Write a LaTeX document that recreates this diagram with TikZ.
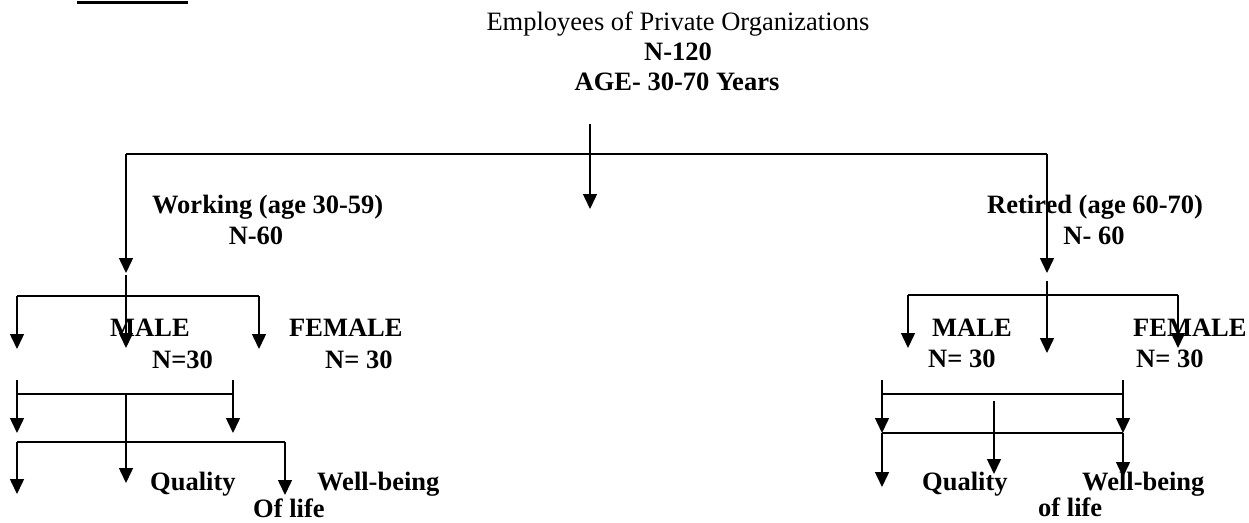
\documentclass[tikz,border=0pt]{standalone}
\usepackage{fontspec}
\setmainfont{Liberation Serif}
\usetikzlibrary{arrows.meta}
\begin{document}
\begin{tikzpicture}[x=1pt,y=-1pt,
  conn/.style={line width=1.5pt},
  arr/.style={conn,-{Triangle[width=14pt,length=15pt]}},
  lbl/.style={font=\fontsize{26.5}{31}\selectfont\bfseries,inner sep=0pt,anchor=base west},
  ttl/.style={font=\fontsize{26.5}{31}\selectfont,inner sep=0pt,anchor=base}]
\useasboundingbox (0,0) rectangle (1249,522);
% top bar
\draw[line width=3pt] (77,2.5) coordinate (b1) -- (188,2.5) coordinate (b2);
% titles
\node[ttl] (t1) at (678,30) {Employees of Private Organizations};
\node[ttl,font=\fontsize{26.5}{31}\selectfont\bfseries] (t2) at (678,60) {N-120};
\node[ttl,font=\fontsize{26.5}{31}\selectfont\bfseries] (t3) at (677,90) {AGE- 30-70 Years};
% level labels
\node[lbl] (work) at (152,213) {Working (age 30-59)};
\node[lbl,anchor=base] (wn) at (256,244) {N-60};
\node[lbl] (ret) at (987,213) {Retired (age 60-70)};
\node[lbl,anchor=base] (rn) at (1094,244) {N- 60};
\node[lbl] (lm) at (110,336) {MALE};
\node[lbl] (lmn) at (152,368) {N=30};
\node[lbl] (lf) at (289,336) {FEMALE};
\node[lbl] (lfn) at (325,368) {N= 30};
\node[lbl] (rm) at (932,336) {MALE};
\node[lbl] (rmn) at (928,367) {N= 30};
\node[lbl] (rf) at (1133,336) {FEMALE};
\node[lbl] (rfn) at (1136,367) {N= 30};
\node[lbl] (lq) at (150,490) {Quality};
\node[lbl] (lw) at (317,490) {Well-being};
\node[lbl] (lo) at (253,517) {Of life};
\node[lbl] (rq) at (922,490) {Quality};
\node[lbl] (rw) at (1082,490) {Well-being};
\node[lbl] (ro) at (1038,516) {of life};
% top branching
\coordinate (hL) at (126,154);
\coordinate (hR) at (1047,154);
\coordinate (cTop) at (590,124);
\coordinate (cTip) at (590,209);
\draw[conn] (hL) -- (hR);
\draw[arr] (cTop) -- (cTip);
\draw[arr] (hL) -- (126,273) coordinate (wTip);
\draw[arr] (hR) -- (1047,273) coordinate (rTip);
% left subtree level 1
\draw[arr] (126,275) coordinate (l1s) -- (126,348) coordinate (l1m);
\draw[conn] (17,296) coordinate (l1a) -- (259,296) coordinate (l1b);
\draw[arr] (l1a) -- (17,349);
\draw[arr] (l1b) -- (259,349);
% left subtree level 2
\coordinate (l2a) at (17,394);
\coordinate (l2b) at (233,394);
\draw[arr] (17,380) -- (17,433);
\draw[arr] (233,380) -- (233,433);
\draw[conn] (l2a) -- (l2b);
\draw[arr] (126,394) coordinate (l2m) -- (126,483);
\draw[conn] (17,442) coordinate (l3a) -- (285,442) coordinate (l3b);
\draw[arr] (l3a) -- (17,494);
\draw[arr] (l3b) -- (285,495);
% right subtree level 1
\draw[arr] (1047,281) coordinate (r1s) -- (1047,353);
\draw[conn] (908,295) coordinate (r1a) -- (1178,295) coordinate (r1b);
\draw[arr] (r1a) -- (908,348);
\draw[arr] (r1b) -- (1178,348);
% right subtree level 2
\draw[arr] (882,380) -- (882,433) coordinate (r3a);
\draw[arr] (1123,380) -- (1123,433) coordinate (r3b);
\draw[conn] (882,394) coordinate (r2a) -- (1123,394) coordinate (r2b);
\draw[conn] (r3a) -- (r3b);
\draw[arr] (994,401) coordinate (r2m) -- (994,474);
\draw[arr] (r3a) -- (882,487);
\draw[arr] (r3b) -- (1123,477);
\end{tikzpicture}
\end{document}
